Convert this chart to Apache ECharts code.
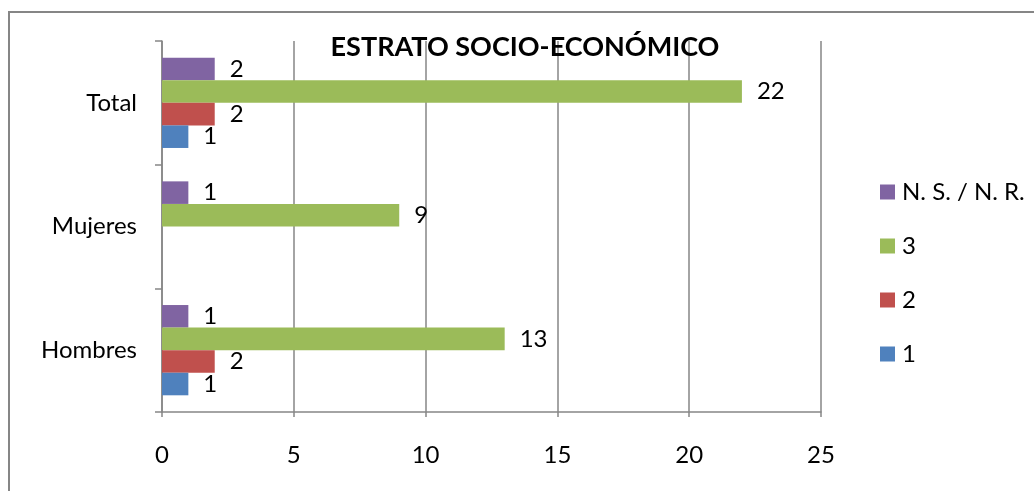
<!DOCTYPE html>
<html>
<head>
<meta charset="utf-8">
<script src="https://cdn.jsdelivr.net/npm/echarts@6/dist/echarts.min.js"></script>
<style>
  html, body { margin: 0; padding: 0; background: #fff; }
  #chart { width: 1034px; height: 491px; }
</style>
</head>
<body>
<div id="chart"></div>
<script>
// categorias de abajo hacia arriba
var categories = ['Hombres', 'Mujeres', 'Total']
var serieNames = ['1', '2', '3', 'N. S. / N. R.']
var estrato1 = [1, null, 1]
var estrato2 = [2, null, 2]
var estrato3 = [13, 9, 22]
var nsnr = [1, 1, 2]
var xTicks = [0, 5, 10, 15, 20, 25]

var colors = ['#4F81BD', '#C0504D', '#9BBB59', '#8064A2']
var font = 'Lato, "Open Sans", sans-serif'
var grey = '#868686'

var myChart = echarts.init(document.getElementById('chart'))

function serie(name, data, color) {
  return {
    name: name,
    type: 'bar',
    data: data,
    barGap: '0%',
    barCategoryGap: '27%',
    itemStyle: { color: color },
    label: {
      show: true,
      position: 'right',
      distance: 15,
      color: '#000',
      fontFamily: font,
      fontSize: 24
    }
  }
}

var option = {
  animation: false,
  title: {
    text: 'ESTRATO SOCIO-ECONÓMICO',
    left: 520,
    textAlign: 'center',
    top: 29,
    textStyle: {
      fontFamily: font,
      fontWeight: 'bold',
      fontSize: 27,
      color: '#000'
    }
  },
  legend: {
    orient: 'vertical',
    left: 875,
    top: 175,
    itemWidth: 15,
    itemHeight: 15,
    itemGap: 30,
    icon: 'rect',
    data: ['N. S. / N. R.', '3', '2', '1'],
    textStyle: {
      fontFamily: font,
      fontSize: 24,
      lineHeight: 24,
      color: '#000',
      padding: [0, 0, 0, 2]
    }
  },
  graphic: [
    {
      type: 'rect',
      shape: { x: 9, y: 12, width: 1100, height: 600 },
      style: { fill: 'none', stroke: grey, lineWidth: 2 },
      silent: true
    }
  ],
  grid: {
    left: 162,
    right: 213,
    top: 41,
    bottom: 79
  },
  xAxis: {
    type: 'value',
    min: xTicks[0],
    max: xTicks[xTicks.length - 1],
    interval: 5,
    axisLine: { show: true, lineStyle: { color: grey, width: 1.5 } },
    axisTick: { show: true, length: 5, lineStyle: { color: grey, width: 1.5 } },
    splitLine: { show: true, lineStyle: { color: grey, width: 1.5 } },
    axisLabel: {
      margin: 31,
      color: '#000',
      fontFamily: font,
      fontSize: 24
    }
  },
  yAxis: {
    type: 'category',
    data: categories,
    axisLine: { show: true, lineStyle: { color: grey, width: 1.5 } },
    axisTick: { show: true, length: 7, lineStyle: { color: grey, width: 1.5 } },
    axisLabel: {
      margin: 25,
      color: '#000',
      fontFamily: font,
      fontSize: 24
    }
  },
  // en barras horizontales la primera serie queda arriba
  series: [
    serie(serieNames[3], nsnr, colors[3]),
    serie(serieNames[2], estrato3, colors[2]),
    serie(serieNames[1], estrato2, colors[1]),
    serie(serieNames[0], estrato1, colors[0])
  ]
}

myChart.setOption(option)
</script>
</body>
</html>
